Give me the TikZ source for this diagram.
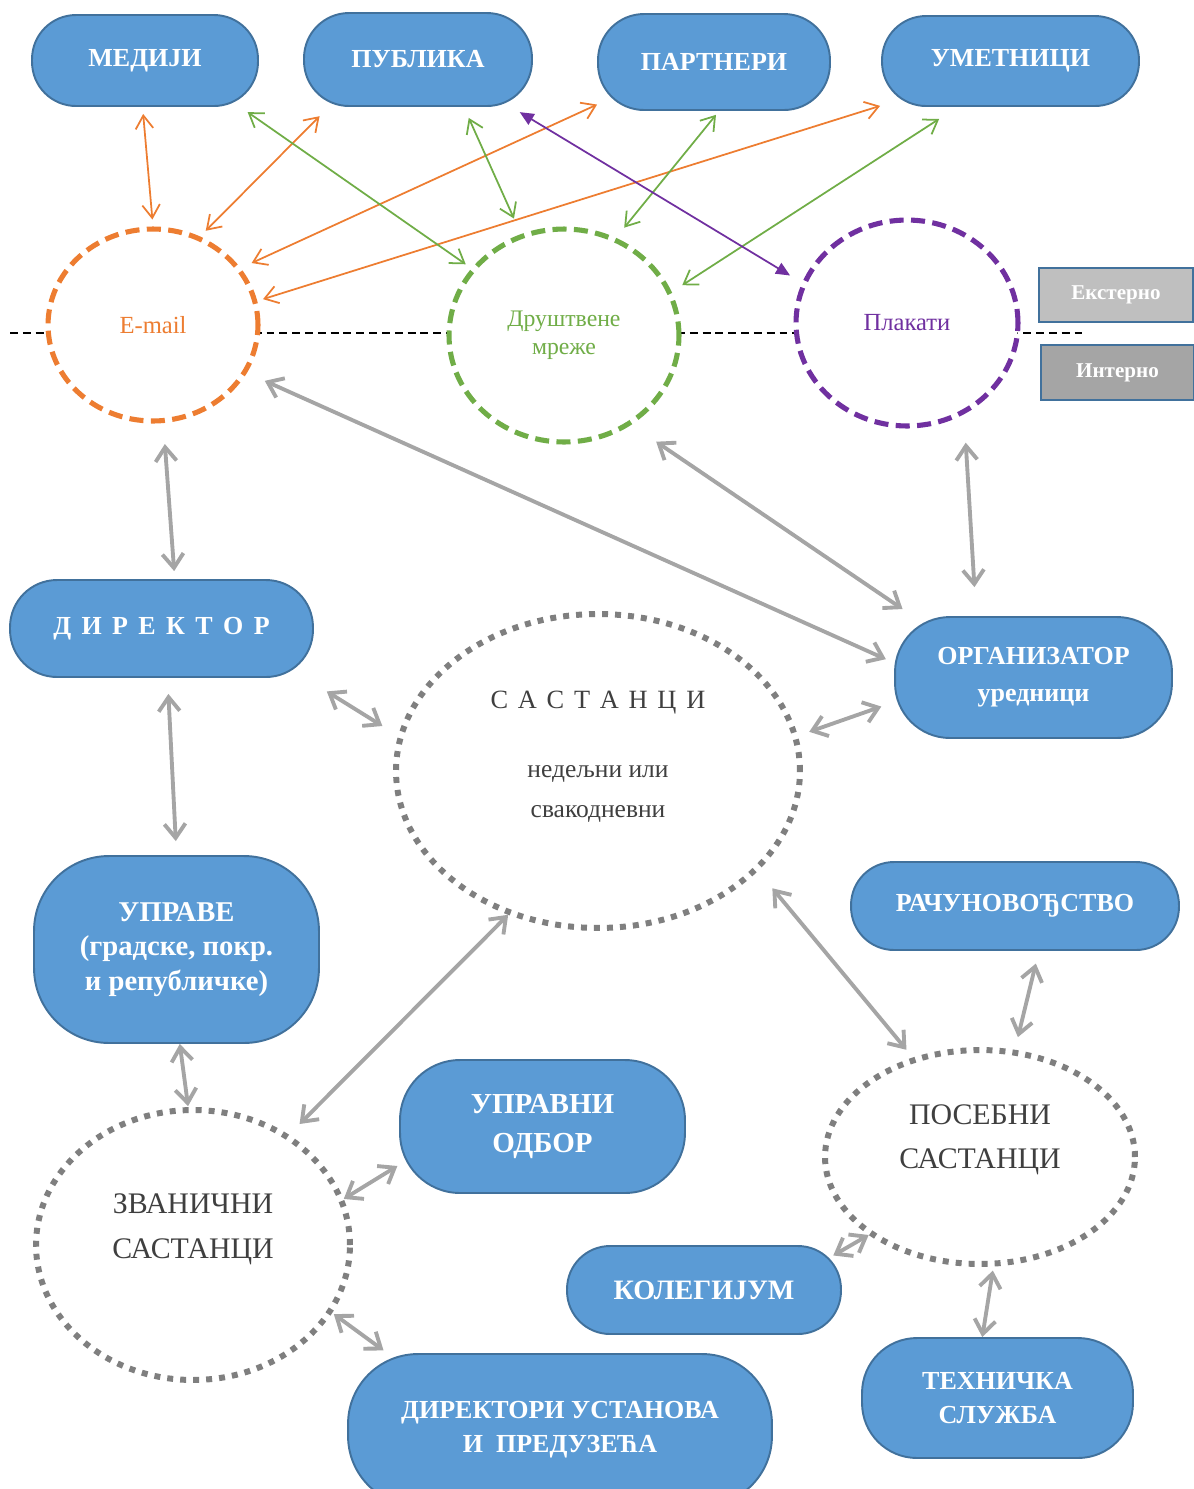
\documentclass[tikz,border=0pt]{standalone}
\usepackage{fontspec}
\setmainfont{Liberation Serif}
\usetikzlibrary{shapes.geometric,arrows.meta}
\definecolor{nodeblue}{HTML}{5B9BD5}
\definecolor{nodeedge}{HTML}{41719C}
\definecolor{mailor}{HTML}{ED7D31}
\definecolor{netgr}{HTML}{70AD47}
\definecolor{postpu}{HTML}{7030A0}
\definecolor{arrgray}{HTML}{A5A5A5}
\definecolor{dotgray}{HTML}{7F7F7F}
\definecolor{txtgray}{HTML}{3F3F3F}
\definecolor{extgray}{HTML}{BFBFBF}
\definecolor{intgray}{HTML}{A5A5A5}
\begin{document}
\begin{tikzpicture}[x=0.02cm, y=-0.02cm,
    box/.style={draw=nodeedge, line width=1.1pt, fill=nodeblue, text=white, align=center, inner sep=0pt, font=\fontsize{14.8}{19.5}\selectfont\bfseries},
    legbox/.style={draw=nodeedge, line width=1.1pt, text=white, inner sep=0pt, font=\fontsize{12}{14}\selectfont\bfseries},
    media/.style={ellipse, fill=white, line width=2.9pt, dash pattern=on 8pt off 4.2pt, inner sep=0pt, align=center, font=\fontsize{14}{16}\selectfont},
    meet/.style={ellipse, draw=dotgray, fill=white, line width=3.4pt, dash pattern=on 3.4pt off 4pt, inner sep=0pt},
    meettxt/.style={text=txtgray, align=center},
    thinarr/.style={line width=1pt, <->, >={Straight Barb[length=7.5pt,width=10pt]}},
    grayarr/.style={draw=arrgray, line width=2.2pt, <->, >={Straight Barb[length=8pt,width=12pt]}}]
    \useasboundingbox (0,0) rectangle (1194,1489);
    \clip (0,0) rectangle (1194,1489);
    \draw[line width=0.6pt, dash pattern=on 4.5pt off 2.8pt] (10,333)--(1082,333);

    \node (medij) at (145,60.5) [box, minimum width=4.52cm, minimum height=1.82cm, rounded corners=0.88cm]{МЕДИЈИ};
    \node (publ) at (418,59.5) [box, minimum width=4.56cm, minimum height=1.86cm, rounded corners=0.9cm]{ПУБЛИКА};
    \node (part) at (714,62) [box, minimum width=4.64cm, minimum height=1.92cm, rounded corners=0.92cm]{ПАРТНЕРИ};
    \node (umet) at (1010.5,61) [box, minimum width=5.14cm, minimum height=1.8cm, rounded corners=0.88cm]{УМЕТНИЦИ};

    \node (email) at (153,325) [media, draw=mailor, text=mailor, minimum width=4.2cm, minimum height=3.84cm]{E-mail};
    \node (drus) at (564,335.5) [media, draw=netgr, text=netgr, minimum width=4.6cm, minimum height=4.26cm, font=\fontsize{13.5}{16}\selectfont]{Друштвене\\мреже};
    \node (plak) at (907,323) [media, draw=postpu, text=postpu, minimum width=4.44cm, minimum height=4.12cm]{Плакати};

    \node (ext) at (1116,295) [legbox, fill=extgray, minimum width=3.08cm, minimum height=1.08cm]{Екстерно};
    \node (inte) at (1117.5,372.5) [legbox, fill=intgray, minimum width=3.06cm, minimum height=1.1cm]{Интерно};

    \node (dir) at (161.5,628.5) [box, minimum width=6.06cm, minimum height=1.94cm, rounded corners=0.94cm]{\spaceskip=0.4em\relax Д И Р Е К Т О Р};
    \node (org) at (1033.5,677.5) [box, minimum width=5.54cm, minimum height=2.42cm, rounded corners=1.1cm, font=\fontsize{14.8}{21}\selectfont\bfseries]{ОРГАНИЗАТОР\\уредници};
    \node (sast) at (598,771) [meet, minimum width=8.08cm, minimum height=6.28cm]{};
    \node (sastT) at (598,757) [meettxt, font=\fontsize{14.5}{23}\selectfont]{{\fontsize{15}{18}\selectfont\spaceskip=0.37em\relax С А С Т А Н Ц И}\\[16pt]недељни или\\свакодневни};

    \node (uprave) at (176.5,949.5) [box, minimum width=5.7cm, minimum height=3.74cm, rounded corners=1.5cm, font=\fontsize{16.3}{19.8}\selectfont\bfseries]{УПРАВЕ\\(градске, покр.\\и републичке)};
    \node (racun) at (1015,906) [box, minimum width=6.56cm, minimum height=1.76cm, rounded corners=0.86cm]{РАЧУНОВОЂСТВО};
    \node (poseb) at (980,1157) [meet, minimum width=6.2cm, minimum height=4.28cm]{};
    \node (posebT) at (980,1140) [meettxt, font=\fontsize{17}{25}\selectfont]{ПОСЕБНИ\\САСТАНЦИ};
    \node (uodbor) at (542.5,1126.5) [box, minimum width=5.7cm, minimum height=2.66cm, rounded corners=1.2cm, font=\fontsize{16.5}{22}\selectfont\bfseries]{УПРАВНИ\\ОДБОР};
    \node (zvan) at (193,1245) [meet, minimum width=6.28cm, minimum height=5.4cm]{};
    \node (zvanT) at (193,1229) [meettxt, font=\fontsize{17}{25.5}\selectfont]{ЗВАНИЧНИ\\САСТАНЦИ};
    \node (koleg) at (704,1290) [box, minimum width=5.48cm, minimum height=1.76cm, rounded corners=0.86cm, font=\fontsize{16}{19}\selectfont\bfseries]{КОЛЕГИЈУМ};
    \node (teh) at (997.5,1398) [box, minimum width=5.42cm, minimum height=2.4cm, rounded corners=1.1cm, font=\fontsize{14.8}{19.3}\selectfont\bfseries]{ТЕХНИЧКА\\СЛУЖБА};
    \node (dirust) at (560,1430) [box, minimum width=8.48cm, minimum height=3.04cm, rounded corners=1.4cm]{ДИРЕКТОРИ УСТАНОВА\\И~~ПРЕДУЗЕЋА};

    \foreach \a/\aa/\b/\bb/\s/\t in {medij/-93/email/90/0.14/0.14, publ/-152/email/62/0.26/0.16, part/-160/email/33/0/0.24, umet/-161/email/13/0.02/0.12}
        { \draw[thinarr, draw=mailor, shorten <=\s cm, shorten >=\t cm] (\a.\aa)--(\b.\bb); }
    \foreach \a/\aa/\b/\bb/\s/\t in {medij/-26/drus/144/0.18/0.14, publ/-46/drus/113/0.24/0.34, part/-84/drus/62/0.1/0.26, umet/-139/drus/22/0.44/0.25}
        { \draw[thinarr, draw=netgr, shorten <=\s cm, shorten >=\t cm] (\a.\aa)--(\b.\bb); }
    \draw[line width=1pt, draw=postpu, <->, >={Triangle[length=8pt,width=7pt]}, shorten <=0.2cm, shorten >=0.28cm] (publ.-27)--(plak.159);

    \foreach \a/\aa/\b/\bb/\s/\t in {email/-84/dir/75/0.42/0.16, email/-27/org/174/0.39/0.18, drus/-53/org/153/0.6/0.25, plak/-58/org/133/0.57/0.58,
        dir/-19/sast/170/0.51/0.37, org/-170/sast/10/0.27/0.24, dir/-83/uprave/90/0.32/0.28, sast/-122/zvan/49/0/0.3,
        sast/-32/poseb/124/0.45/0.2, racun/-62/poseb/72/0.26/0.26, uprave/-88/zvan/92/0/0.02, zvan/17/uodbor/-165/0/0.04,
        zvan/-26/dirust/156/0.04/0.09, poseb/-145/koleg/16/0/-0.2, poseb/-83/teh/104/0.08/0}
        { \draw[grayarr, shorten <=\s cm, shorten >=\t cm] (\a.\aa)--(\b.\bb); }
\end{tikzpicture}
\end{document}
